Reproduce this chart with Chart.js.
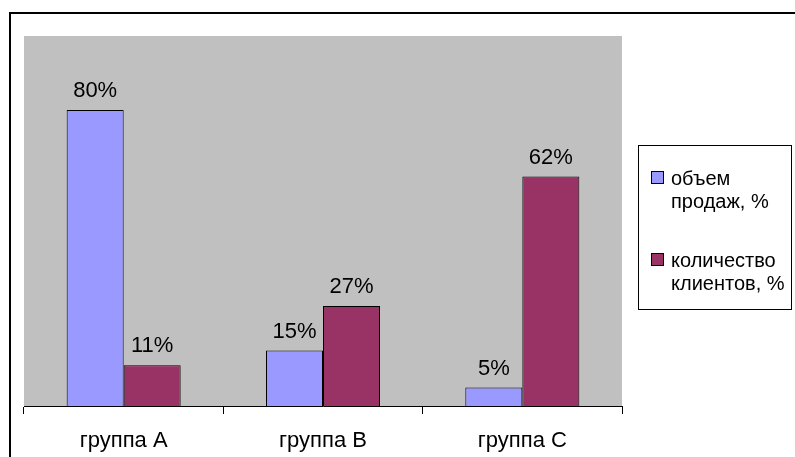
<!DOCTYPE html>
<html>
<head>
<meta charset="utf-8">
<script src="https://cdn.jsdelivr.net/npm/chart.js@4/dist/chart.umd.min.js"></script>
<style>
  html, body { margin: 0; padding: 0; background: #fff; }
  #wrap { width: 795px; height: 457px; position: relative; }
</style>
</head>
<body>
<div id="wrap"><canvas id="c" width="795" height="457"></canvas></div>
<script>
// Categories and series (percent)
const categories = ['группа A', 'группа B', 'группа C'];
const salesShare = [80, 15, 5];
const clientShare = [11, 27, 62];
const seriesNames = [['объем', 'продаж, %'], ['количество', 'клиентов, %']];
const seriesColors = ['#9999FF', '#993366'];

const FONT = '"Liberation Sans", Arial, sans-serif';

// Gray plot background, outer frame, value labels and boxed legend
const decor = {
  id: 'decor',
  beforeDatasetsDraw(chart) {
    const { ctx, chartArea: a } = chart;
    ctx.save();
    ctx.fillStyle = '#C0C0C0';
    ctx.fillRect(a.left, a.top, a.right - a.left, a.bottom - a.top);
    ctx.restore();
  },
  afterDraw(chart) {
    const { ctx } = chart;
    ctx.save();
    // outer frame (top and left edges visible)
    ctx.fillStyle = '#000';
    ctx.fillRect(9, 12, 2, 457 - 12);
    ctx.fillRect(9, 12, 795 - 9, 2);

    // value labels
    ctx.font = '22px ' + FONT;
    ctx.fillStyle = '#000';
    ctx.textAlign = 'center';
    ctx.textBaseline = 'alphabetic';
    chart.data.datasets.forEach((ds, i) => {
      chart.getDatasetMeta(i).data.forEach((bar, j) => {
        ctx.fillText(ds.data[j] + '%', bar.x, bar.y - 13);
      });
    });

    // legend box
    ctx.font = '20px ' + FONT;
    ctx.strokeStyle = '#000';
    ctx.lineWidth = 1;
    ctx.strokeRect(638.5, 145.5, 153, 164);
    ctx.textAlign = 'left';
    const firstLine = [185, 267];
    chart.data.datasets.forEach((ds, i) => {
      const y0 = firstLine[i];
      ctx.fillStyle = ds.backgroundColor;
      ctx.fillRect(651, y0 - 14, 13, 13);
      ctx.strokeRect(651.5, y0 - 13.5, 12, 12);
      ctx.fillStyle = '#000';
      seriesNames[i].forEach((t, k) => ctx.fillText(t, 671, y0 + k * 23));
    });
    ctx.restore();
  }
};

new Chart(document.getElementById('c'), {
  type: 'bar',
  data: {
    labels: categories,
    datasets: [
      { label: seriesNames[0].join(' '), data: salesShare, backgroundColor: seriesColors[0], borderColor: '#000', borderWidth: 1 },
      { label: seriesNames[1].join(' '), data: clientShare, backgroundColor: seriesColors[1], borderColor: '#000', borderWidth: 1 }
    ]
  },
  options: {
    responsive: false,
    animation: false,
    layout: { padding: { left: 24, top: 36, right: 173, bottom: 0 } },
    datasets: { bar: { categoryPercentage: 0.572, barPercentage: 1 } },
    plugins: { legend: { display: false }, tooltip: { enabled: false } },
    scales: {
      x: {
        offset: true,
        grid: { offset: true, drawOnChartArea: false, color: '#000', tickLength: 8, lineWidth: 1 },
        border: { color: '#000', width: 1 },
        ticks: { color: '#000', font: { family: FONT, size: 22 }, padding: 14, maxRotation: 0 },
        afterFit(s) { s.height = 51; }
      },
      y: { display: false, min: 0, max: 100 }
    }
  },
  plugins: [decor]
});
</script>
</body>
</html>
